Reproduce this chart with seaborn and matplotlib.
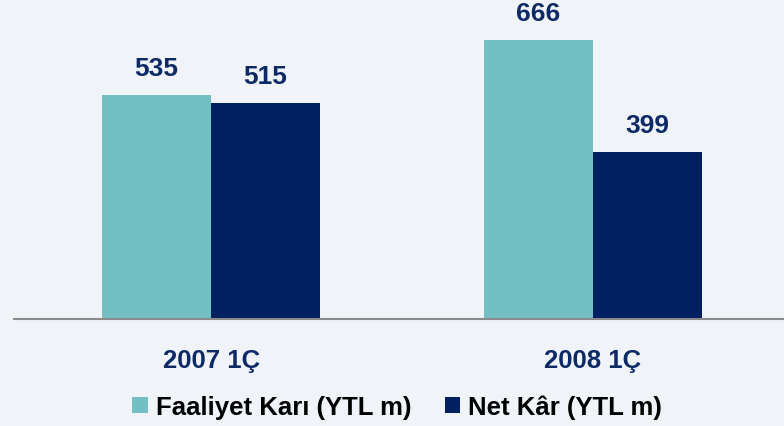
import matplotlib
matplotlib.use("Agg")
import matplotlib.pyplot as plt
import seaborn as sns
import pandas as pd

# data
periods = ["2007 1Ç", "2008 1Ç"]
series = ["Faaliyet Karı (YTL m)", "Net Kâr (YTL m)"]
faaliyet_kari = [535, 666]
net_kar = [515, 399]

teal = "#72BFC4"
navy = "#00205F"
label_color = "#0D2A66"

df = pd.DataFrame({
    "period": periods * 2,
    "series": [series[0]] * 2 + [series[1]] * 2,
    "value": faaliyet_kari + net_kar,
})

sns.set_style("white")
plt.rcParams["font.family"] = ["Liberation Sans", "DejaVu Sans"]

fig = plt.figure(figsize=(7.84, 4.27), dpi=100, facecolor="#F0F4F9")
ax = fig.add_axes([14 / 784, 107 / 427, 770 / 784, 320 / 427])
ax.set_facecolor("none")

sns.barplot(data=df, x="period", y="value", hue="series",
            palette=[teal, navy], width=0.57, saturation=1,
            linewidth=0, ax=ax)

for c in ax.containers:
    ax.bar_label(c, padding=11, fontsize=19, fontweight="bold", color=label_color)

ax.set_xlim(-0.516, 1.5)
ax.set_ylim(0, 764)
ax.set_xlabel("")
ax.set_ylabel("")
ax.set_yticks([])
ax.tick_params(axis="x", length=0, pad=21, labelsize=18.5, labelcolor=label_color)
for t in ax.get_xticklabels():
    t.set_fontweight("bold")

for s in ["top", "left", "right"]:
    ax.spines[s].set_visible(False)
ax.spines["bottom"].set_color("#8A8A8A")
ax.spines["bottom"].set_linewidth(1.5)

handles, labels = ax.get_legend_handles_labels()
ax.get_legend().remove()
fig.legend(handles, labels, loc="center", bbox_to_anchor=(397 / 784, 1 - 408 / 427),
           ncol=2, frameon=False, handlelength=0.6, handleheight=0.6,
           handletextpad=0.3, columnspacing=1.3, labelcolor="black",
           prop={"size": 18.5, "weight": "bold"})

fig.savefig("out.png", dpi=100, facecolor=fig.get_facecolor())
